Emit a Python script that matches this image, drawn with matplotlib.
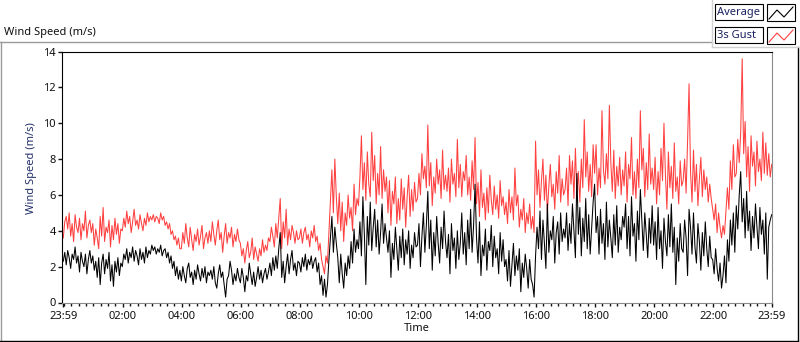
import matplotlib
matplotlib.use("Agg")
import matplotlib.pyplot as plt
import numpy as np
from matplotlib.lines import Line2D
from matplotlib.patches import Rectangle
from matplotlib.ticker import FixedLocator

plt.rcParams['font.family'] = ['Noto Sans', 'DejaVu Sans']

# 3-minute samples, 23:59 (previous day) -> 23:59
# one row per hour
average = [
    2.3, 2.8, 2.1, 2.9, 2.5, 1.9, 2.7, 2.4, 3.1, 2.2, 2.6, 1.7, 2.8, 2.3, 2.0, 2.7, 1.6, 2.4, 2.9, 2.2,
    2.6, 1.8, 2.3, 1.4, 2.5, 1.0, 2.2, 2.7, 1.6, 2.4, 1.9, 2.8, 1.2, 2.1, 0.9, 2.3, 1.7, 2.5, 1.5, 2.2,
    2.0, 2.7, 2.4, 3.0, 2.2, 2.8, 2.5, 3.1, 2.3, 2.9, 2.6, 2.1, 3.0, 2.4, 2.8, 2.2, 3.1, 2.5, 2.9, 2.7,
    3.2, 2.9, 3.1, 2.7, 3.0, 2.8, 3.2, 2.6, 2.9, 3.0, 2.5, 2.8, 2.2, 2.6, 1.9, 2.3, 1.5, 2.0, 1.3, 1.8,
    1.2, 2.0, 1.5, 1.1, 1.9, 2.2, 1.4, 1.7, 1.0, 1.8, 1.3, 2.1, 1.6, 1.2, 1.9, 1.4, 2.0, 1.1, 1.7, 1.5,
    1.8, 1.3, 2.0, 1.1, 0.8, 1.6, 2.1, 1.4, 1.7, 1.0, 0.3, 1.3, 1.5, 2.3, 1.8, 1.0, 1.6, 1.2, 1.9, 1.4,
    1.1, 1.9, 1.4, 0.6, 1.5, 1.2, 2.2, 1.6, 1.0, 1.7, 0.9, 1.4, 2.0, 1.3, 1.8, 1.1, 1.6, 1.9, 1.3, 1.7,
    2.2, 1.5, 2.5, 1.8, 2.6, 1.9, 3.0, 3.9, 1.4, 2.3, 1.1, 2.0, 2.7, 1.6, 2.4, 2.9, 1.8, 2.2, 1.5, 2.3,
    2.2, 1.7, 2.5, 2.0, 2.7, 1.8, 2.4, 2.1, 2.6, 1.9, 2.3, 2.5, 1.7, 2.2, 1.0, 1.5, 0.4, 1.3, 0.3, 1.0,
    2.4, 3.6, 4.8, 2.8, 4.2, 3.3, 2.5, 1.1, 2.7, 1.6, 0.8, 2.2, 1.5, 2.6, 1.9, 3.4, 2.2, 4.1, 2.8, 3.5,
    3.0, 4.5, 2.6, 5.9, 3.8, 1.0, 4.8, 3.2, 5.6, 2.9, 4.2, 5.2, 3.1, 4.6, 2.7, 3.9, 5.5, 3.3, 4.4, 3.6,
    2.8, 4.0, 1.4, 3.3, 2.4, 4.2, 3.0, 1.8, 3.7, 2.5, 4.1, 2.1, 3.5, 2.7, 4.0, 1.9, 3.2, 2.5, 3.9, 3.1,
    3.2, 4.4, 2.0, 3.7, 5.0, 2.8, 4.3, 6.2, 3.0, 4.6, 1.8, 3.9, 2.6, 4.8, 3.3, 2.2, 4.2, 3.0, 5.1, 3.4,
    2.5, 3.8, 1.6, 4.4, 2.9, 3.6, 1.9, 4.0, 2.4, 3.3, 5.0, 2.7, 3.9, 2.1, 4.6, 3.0, 5.2, 2.8, 4.3, 6.6,
    3.6, 2.2, 4.5, 1.5, 3.2, 2.6, 4.1, 1.8, 3.4, 2.9, 4.3, 2.0, 3.7, 2.5, 3.0, 1.6, 3.9, 2.3, 3.5, 2.0,
    2.4, 1.2, 2.9, 0.9, 2.1, 3.3, 1.5, 2.6, 1.8, 3.0, 0.6, 2.2, 1.4, 2.7, 1.9, 0.8, 2.4, 1.3, 1.0, 0.3,
    2.6, 4.2, 3.0, 5.1, 2.4, 4.6, 3.3, 1.9, 5.5, 2.8, 4.0, 3.5, 4.8, 2.2, 3.9, 4.5, 2.7, 5.0, 3.4, 4.1,
    3.6, 5.0, 2.9, 4.4, 3.3, 5.5, 4.0, 2.5, 7.2, 3.8, 5.3, 2.6, 4.7, 3.4, 5.8, 3.0, 4.9, 2.7, 4.1, 5.6,
    6.6, 3.9, 4.8, 2.7, 5.2, 3.3, 4.4, 2.4, 5.6, 3.1, 4.6, 3.6, 2.5, 4.9, 3.2, 5.4, 2.8, 4.2, 3.5, 4.8,
    4.2, 5.5, 3.0, 4.8, 2.6, 5.9, 3.7, 4.4, 2.3, 5.1, 3.5, 6.3, 4.6, 2.9, 5.0, 3.8, 2.5, 4.7, 3.3, 5.4,
    3.2, 4.5, 2.4, 5.3, 3.0, 4.0, 1.9, 4.7, 3.4, 2.6, 4.9, 3.1, 5.5, 2.8, 4.2, 1.0, 3.6, 2.3, 4.4, 3.0,
    2.8, 4.6, 3.6, 1.5, 5.2, 4.2, 2.7, 5.0, 3.1, 2.2, 4.4, 3.4, 1.8, 3.9, 2.6, 4.5, 3.0, 2.0, 3.7, 2.5,
    2.4, 1.6, 3.0, 1.9, 1.2, 2.2, 0.8, 1.5, 2.6, 1.1, 3.5, 2.3, 4.6, 3.2, 5.0, 2.8, 5.4, 4.1, 6.0, 7.3,
    4.5, 5.8, 3.6, 6.2, 4.0, 5.1, 2.9, 4.8, 3.6, 5.5, 4.2, 3.0, 5.3, 3.8, 4.6, 2.7, 5.0, 1.3, 4.2, 4.6,
    4.9,
]
gust = [
    3.6, 4.5, 4.8, 4.1, 5.0, 3.7, 4.4, 3.4, 4.9, 4.2, 3.9, 4.7, 3.5, 4.4, 4.0, 5.1, 3.6, 4.3, 4.6, 3.9,
    4.4, 3.2, 4.1, 3.6, 3.0, 4.8, 3.7, 5.3, 3.4, 4.2, 3.9, 4.6, 3.1, 4.3, 3.5, 4.7, 3.8, 4.4, 3.3, 4.1,
    4.0, 4.7, 4.2, 5.1, 4.4, 4.8, 3.9, 4.5, 5.2, 4.3, 4.6, 4.1, 4.9, 4.4, 4.0, 4.7, 4.3, 5.0, 4.5, 4.8,
    4.6, 4.9, 4.5, 4.8, 4.7, 4.4, 5.0, 4.6, 4.8, 4.3, 4.5, 4.1, 4.4, 3.8, 4.0, 3.5, 3.7, 3.2, 3.6, 3.0,
    3.0, 3.9, 3.3, 4.4, 3.6, 3.1, 4.2, 3.5, 2.9, 3.8, 3.4, 4.1, 3.2, 3.7, 4.3, 3.0, 3.6, 3.9, 3.3, 4.0,
    3.4, 4.5, 3.8, 3.2, 4.0, 4.6, 3.5, 3.9, 2.8, 3.7, 4.4, 3.3, 3.9, 3.6, 4.2, 3.1, 3.8, 3.4, 4.1, 3.5,
    3.3, 2.6, 3.0, 2.2, 2.9, 3.4, 2.5, 2.8, 3.6, 2.4, 3.1, 2.7, 2.3, 3.0, 2.6, 3.5, 2.8, 3.2, 2.9, 3.6,
    3.4, 4.2, 3.7, 3.1, 4.4, 3.6, 4.7, 5.8, 3.0, 4.5, 3.6, 5.2, 3.2, 4.1, 3.5, 4.3, 3.9, 3.3, 4.0, 3.5,
    3.6, 4.1, 3.3, 3.9, 4.2, 3.5, 3.8, 3.1, 4.0, 3.6, 4.3, 3.4, 3.7, 2.9, 3.3, 2.4, 2.0, 1.6, 2.6, 2.2,
    3.9, 5.5, 7.4, 5.0, 8.0, 5.9, 4.4, 6.1, 4.0, 5.6, 3.4, 5.0, 4.3, 6.0, 4.7, 5.3, 4.0, 6.6, 4.9, 5.8,
    5.4, 7.0, 9.3, 6.3, 7.8, 5.7, 8.4, 6.6, 5.9, 9.5, 6.8, 8.2, 5.5, 7.2, 6.0, 8.7, 5.8, 7.4, 6.2, 7.0,
    5.0, 6.8, 4.3, 6.2, 5.5, 7.0, 4.4, 5.8, 4.6, 6.9, 5.2, 6.4, 4.2, 5.9, 7.1, 4.8, 6.3, 5.1, 6.7, 5.6,
    5.8, 7.2, 6.0, 8.3, 6.9, 7.6, 6.4, 9.9, 6.5, 7.8, 5.4, 7.0, 6.1, 8.0, 6.6, 7.4, 5.8, 8.5, 6.3, 7.1,
    6.2, 7.5, 5.6, 8.0, 6.6, 7.2, 5.9, 9.1, 6.4, 7.7, 5.9, 7.3, 6.8, 8.2, 6.0, 7.0, 5.7, 7.9, 6.3, 9.2,
    5.5, 6.7, 4.8, 7.4, 5.3, 6.1, 4.6, 6.4, 5.0, 7.1, 5.7, 4.9, 6.5, 5.2, 6.0, 4.7, 6.8, 5.4, 5.9, 4.9,
    5.6, 4.4, 6.3, 5.0, 5.9, 4.6, 7.5, 5.4, 6.0, 4.2, 5.2, 4.6, 5.8, 3.9, 5.0, 4.4, 5.5, 4.1, 4.8, 3.9,
    9.0, 6.0, 7.4, 5.3, 6.8, 8.0, 5.7, 7.1, 5.0, 6.5, 7.7, 5.9, 6.6, 5.2, 7.3, 6.1, 8.2, 5.6, 6.9, 6.0,
    6.3, 7.5, 5.4, 8.2, 6.6, 7.9, 5.8, 8.6, 6.1, 7.3, 5.6, 8.0, 6.4, 10.2, 7.0, 8.4, 6.2, 7.7, 5.9, 8.8,
    7.2, 8.8, 6.0, 7.5, 6.4, 10.7, 7.4, 6.6, 8.3, 6.9, 11.0, 7.8, 6.2, 8.5, 5.8, 7.6, 6.5, 8.1, 6.0, 7.4,
    6.5, 8.4, 5.6, 7.7, 6.9, 9.2, 6.0, 7.3, 5.8, 8.0, 6.4, 10.7, 7.4, 8.6, 5.9, 7.8, 6.3, 9.4, 6.6, 7.5,
    6.3, 8.1, 5.5, 7.3, 6.0, 8.6, 6.8, 10.0, 7.1, 5.2, 8.4, 6.4, 7.6, 5.8, 8.9, 6.2, 7.0, 5.5, 7.9, 6.5,
    6.8, 8.0, 6.1, 9.0, 12.2, 7.3, 5.6, 8.5, 6.2, 7.7, 5.4, 6.9, 8.1, 5.9, 7.4, 6.3, 7.0, 5.6, 6.6, 5.8,
    5.2, 4.6, 5.5, 3.9, 5.0, 4.2, 3.6, 4.3, 3.8, 5.1, 6.4, 5.2, 7.9, 6.3, 8.8, 7.0, 7.2, 9.1, 7.8, 9.5,
    13.6, 8.3, 10.1, 7.0, 8.7, 6.2, 9.3, 7.6, 8.4, 6.5, 9.0, 7.3, 8.0, 6.8, 9.5, 7.2, 8.9, 7.1, 8.3, 7.0,
    7.7,
]
step_minutes = 3

tick_minutes = [0, 121, 241, 361, 481, 601, 721, 841, 961, 1081, 1201, 1321, 1440]
tick_labels = ["23:59", "02:00", "04:00", "06:00", "08:00", "10:00", "12:00",
               "14:00", "16:00", "18:00", "20:00", "22:00", "23:59"]
y_ticks = [0, 2, 4, 6, 8, 10, 12, 14]

series_names = ["Average", "3s Gust"]
series_colors = ["black", "#ff4040"]

W, H = 800, 342


def fx(px):
    return px / W


def fy(py):
    return 1 - py / H


fig = plt.figure(figsize=(W / 100, H / 100), dpi=100)
ax = fig.add_axes([fx(62), fy(302.5), (772 - 62) / W, (302.5 - 51.5) / H])

minutes = np.arange(len(average)) * step_minutes
ax.plot(minutes, gust, color=series_colors[1], lw=0.75)
ax.plot(minutes, average, color=series_colors[0], lw=0.75)

ax.set_xlim(-2.6, 1440.6)
ax.set_ylim(0, 14)
ax.set_xticks(tick_minutes)
ax.set_xticklabels(tick_labels)
minor = [m for m in range(1, 1440, 15) if m not in tick_minutes]
ax.xaxis.set_minor_locator(FixedLocator(minor))
ax.set_yticks(y_ticks)

ax.tick_params(axis='both', which='major', length=3, width=1, pad=1.5,
               labelsize=8, colors='#111111')
ax.tick_params(axis='x', which='minor', length=1.8, width=1, colors='#111111')
ax.tick_params(axis='x', which='major', pad=3)

for side in ['left', 'top']:
    ax.spines[side].set_color('black')
for side in ['right', 'bottom']:
    ax.spines[side].set_color('#8a8a8a')

ax.set_xlabel("Time", fontsize=8, color='#111111', labelpad=1)
ax.set_ylabel("Wind Speed (m/s)", fontsize=8, color='#23306a')
ax.yaxis.set_label_coords((37 - 62) / 710, (302.5 - 168) / 251)

# panel title and frame
fig.text(fx(4), fy(32), "Wind Speed (m/s)", fontsize=8, color='#111111',
         ha='left', va='center')
fig.add_artist(Line2D([fx(0), fx(712)], [fy(42), fy(42)], color='#9a9a9a', lw=1))
fig.add_artist(Line2D([fx(0.5), fx(0.5)], [fy(42), fy(341)], color='#9a9a9a', lw=1))
fig.add_artist(Line2D([fx(0), fx(798)], [fy(340.5), fy(340.5)], color='black', lw=1))
fig.add_artist(Line2D([fx(798), fx(798)], [fy(47), fy(341)], color='black', lw=1))

# legend panel
fig.add_artist(Line2D([fx(712), fx(712)], [fy(0), fy(47)], color='#d0d0d0', lw=1))
fig.add_artist(Line2D([fx(712), fx(800)], [fy(47), fy(47)], color='#d0d0d0', lw=1))
zig_x = [769, 777, 784, 793]
zig_y = [19, 10, 17, 7]
for i, (name, color) in enumerate(zip(series_names, series_colors)):
    top = 4 + i * 23
    fig.add_artist(Rectangle((fx(715), fy(top + 16)), 48 / W, 16 / H,
                             transform=fig.transFigure, fill=False,
                             edgecolor='black', lw=0.8))
    fig.text(fx(717), fy(top + 8), name, fontsize=8, color='#1a2060',
             ha='left', va='center')
    fig.add_artist(Rectangle((fx(767), fy(top + 17)), 28 / W, 17 / H,
                             transform=fig.transFigure, fill=False,
                             edgecolor='black', lw=0.8))
    fig.add_artist(Line2D([fx(x) for x in zig_x],
                          [fy(y + top - 4) for y in zig_y],
                          color=color, lw=0.8))

fig.savefig("out.png", dpi=100)
